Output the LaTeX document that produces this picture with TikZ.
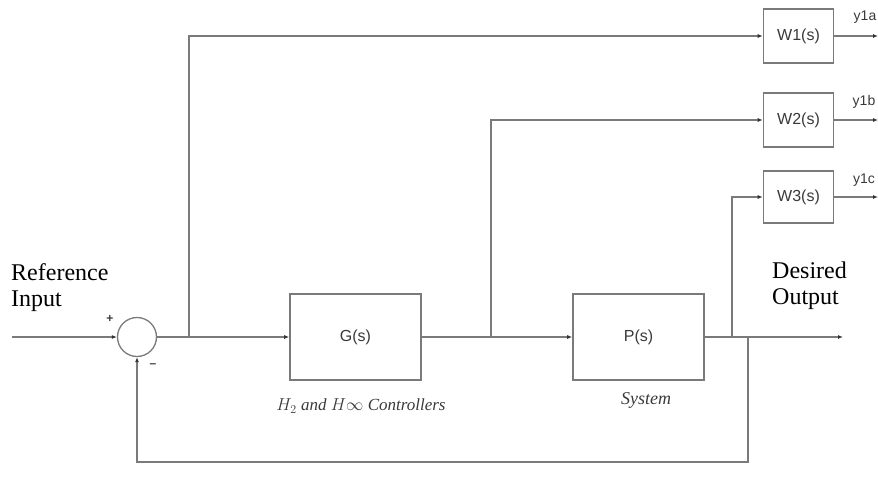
\documentclass[tikz,border=0pt]{standalone}
\usepackage{fontspec}
\setmainfont{Liberation Serif}
\setsansfont{Liberation Sans}
\usetikzlibrary{arrows.meta}
\definecolor{ln}{HTML}{7A7A7A}
\definecolor{tx}{HTML}{3A3A3A}
\tikzset{
  wire/.style={draw=ln, line width=1.3pt},
  arr/.style={wire, -{Latex[length=5pt,width=4pt,fill=black!80,color=black!80]}},
  blk/.style={draw=ln, line width=1.6pt, fill=white, inner sep=0pt, font=\sffamily\fontsize{16}{18}\selectfont, text=tx},
  sumc/.style={circle, draw=ln, line width=1.3pt, minimum size=39pt, inner sep=0pt},
  lbl/.style={font=\fontsize{24}{28}\selectfont, text=black, align=left, inner sep=0pt, anchor=north west},
  ital/.style={font=\itshape\fontsize{17}{19}\selectfont, text=tx, inner sep=0pt},
  ylab/.style={font=\sffamily\fontsize{14}{16}\selectfont, text=tx, inner sep=0pt},
  sgn/.style={font=\sffamily\bfseries\fontsize{12}{14}\selectfont, text=tx, inner sep=0pt}
}
\begin{document}
\begin{tikzpicture}[x=1pt,y=-1pt]
\useasboundingbox (0,0) rectangle (878,482);
% blocks
\node[sumc] (sum) at (137,337) {};
\node[blk, minimum width=131pt, minimum height=86pt] (G) at (355.5,337) {G(s)};
\node[blk, minimum width=131pt, minimum height=86pt] (P) at (638.5,337) {P(s)};
\node[blk, minimum width=70pt, minimum height=54pt] (W1) at (798.5,36) {W1(s)};
\node[blk, minimum width=70pt, minimum height=54pt] (W2) at (798.5,120) {W2(s)};
\node[blk, minimum width=70pt, minimum height=52pt] (W3) at (798.5,197) {W3(s)};
% coordinates
\coordinate (in) at (12,337);
\coordinate (b1) at (189,337);
\coordinate (b2) at (491,337);
\coordinate (b3) at (732,337);
\coordinate (b4) at (748,337);
\coordinate (out) at (843,337);
\coordinate (fb) at (748,462);
\coordinate (o1) at (878,36);
\coordinate (o2) at (878,120);
\coordinate (o3) at (878,197);
% connectors
\draw[arr] (in) -- (sum.west);
\draw[arr] (sum.east) -- (G.west);
\draw[arr] (G.east) -- (P.west);
\draw[arr] (P.east) -- (out);
\draw[arr] (b1) |- (W1.west);
\draw[arr] (b2) |- (W2.west);
\draw[arr] (b3) |- (W3.west);
\draw[arr] (b4) -- (fb) -| (sum.south);
\draw[arr] (W1.east) -- (o1);
\draw[arr] (W2.east) -- (o2);
\draw[arr] (W3.east) -- (o3);
% labels
\node[lbl] (ref) at (11,263) {Reference\\[-2pt]Input};
\node[lbl] (des) at (772,262) {Desired\\[-2pt]Output};
\node[sgn] (plus) at (110,319) {+};
\node[sgn] (minus) at (153,366) {--};
\node[ital] (gl) at (361,406) {$H_2$ and $H\infty$ Controllers};
\node[ital, font=\itshape\fontsize{18}{20}\selectfont] (pl) at (646,400) {System};
\node[ylab] (y1a) at (865,17) {y1a};
\node[ylab] (y1b) at (864,102) {y1b};
\node[ylab] (y1c) at (864,180) {y1c};
\end{tikzpicture}
\end{document}
